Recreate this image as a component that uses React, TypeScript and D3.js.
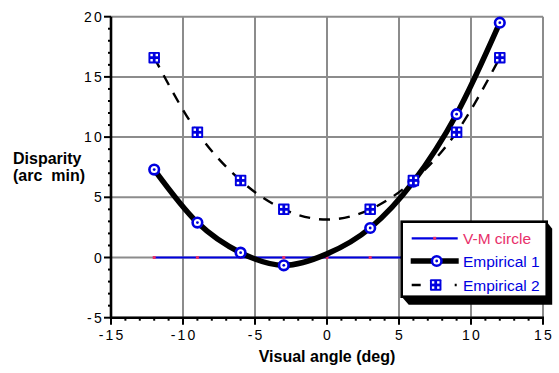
import React from "react";
import * as d3 from "d3";

const xTicks = [-15, -10, -5, 0, 5, 10, 15];
const yTicks = [-5, 0, 5, 10, 15, 20];

const vmX = [-12, -9, -6, -3, 0, 3, 6, 9, 12];
const vmY = [0, 0, 0, 0, 0, 0, 0, 0, 0];

const emp1X = [-12, -9, -6, -3, 3, 6, 9, 12];
const emp1Y = [7.3, 2.9, 0.4, -0.65, 2.45, 6.3, 11.9, 19.5];

const emp1CurveX = [-12, -9, -6, -3, 0, 3, 6, 9, 12];
const emp1CurveY = [7.3, 2.9, 0.4, -0.65, 0.3, 2.45, 6.3, 11.9, 19.5];

const emp2X = [-12, -9, -6, -3, 3, 6, 9, 12];
const emp2Y = [16.6, 10.4, 6.4, 4.0, 4.0, 6.4, 10.4, 16.6];

const emp2CurveX = [-12, -9, -6, -3, 0, 3, 6, 9, 12];
const emp2CurveY = [16.6, 10.4, 6.4, 4.0, 3.15, 4.0, 6.4, 10.4, 16.6];

const legendLabels = ["V-M circle", "Empirical 1", "Empirical 2"];

const W = 559;
const H = 373;
const FONT = "'Liberation Sans', Arial, Helvetica, sans-serif";
const BLUE = "#0000e0";
const RED = "#e8306a";
const GRID = "#8c8c8c";

const x = d3.scaleLinear().domain([-15, 15]).range([111, 543]);
const y = d3.scaleLinear().domain([-5, 20]).range([317.7, 16.7]);

function CircleMarker({ cx, cy }: { cx: number; cy: number }) {
  return (
    <g>
      <circle cx={cx} cy={cy} r={4.8} fill="#fff" stroke={BLUE} strokeWidth={2.6} />
      <circle cx={cx} cy={cy} r={1.4} fill={BLUE} />
    </g>
  );
}

function SquareMarker({ cx, cy }: { cx: number; cy: number }) {
  const s = 11.5;
  const q = 2.4;
  const off = 2.6;
  return (
    <g>
      <rect x={cx - s / 2} y={cy - s / 2} width={s} height={s} rx={1} fill={BLUE} />
      {[-1, 1].map((i) =>
        [-1, 1].map((j) => (
          <rect
            key={`${i}${j}`}
            x={cx + i * off - q / 2}
            y={cy + j * off - q / 2}
            width={q}
            height={q}
            fill="#fff"
          />
        ))
      )}
    </g>
  );
}

export default function App() {
  const line1 = d3
    .line<number>()
    .x((_, i) => x(emp1CurveX[i]))
    .y((d) => y(d))
    .curve(d3.curveMonotoneX)(emp1CurveY) as string;
  const line2 = d3
    .line<number>()
    .x((_, i) => x(emp2CurveX[i]))
    .y((d) => y(d))
    .curve(d3.curveMonotoneX)(emp2CurveY) as string;
  const lineVM = d3
    .line<number>()
    .x((_, i) => x(vmX[i]))
    .y((d) => y(d))(vmY) as string;

  const xMinor = d3.range(-15, 15.01, 1).filter((v) => v % 5 !== 0);
  const yMinor = d3.range(-5, 20.01, 1).filter((v) => v % 5 !== 0);

  const [x0, x1] = x.range();
  const [yb, yt] = y.range();

  // legend geometry
  const L = 401.7, T = 221.7, R = 546.7, B = 296.7;
  const rowsY = [238.3, 261, 285];
  const sx0 = 411.7, sx1 = 457.7, sxc = 434.7;
  const tx = 463;

  const LS = 2.2;

  return (
    <div style={{ position: "absolute", left: 0, top: 0 }}>
      <svg width={W} height={H} style={{ display: "block", background: "#fff" }}>
        {/* grid */}
        {xTicks.map((t) => (
          <line key={"gx" + t} x1={x(t)} x2={x(t)} y1={yb} y2={yt} stroke={GRID} strokeWidth={2} />
        ))}
        {yTicks.map((t) => (
          <line key={"gy" + t} x1={x0} x2={x1} y1={y(t)} y2={y(t)} stroke={GRID} strokeWidth={2} />
        ))}

        {/* V-M circle */}
        <path d={lineVM} fill="none" stroke={BLUE} strokeWidth={2.2} />
        {vmX.map((v, i) => (
          <rect key={"vm" + i} x={x(v) - 1.5} y={y(vmY[i]) - 1.5} width={3} height={3} fill={RED} />
        ))}

        {/* Empirical 2 dashed */}
        <path d={line2} fill="none" stroke="#000" strokeWidth={2.4} strokeDasharray="11,9" />

        {/* Empirical 1 thick */}
        <path d={line1} fill="none" stroke="#000" strokeWidth={5.5} strokeLinejoin="round" />

        {emp1X.map((v, i) => (
          <CircleMarker key={"e1" + i} cx={x(v)} cy={y(emp1Y[i])} />
        ))}
        {emp2X.map((v, i) => (
          <SquareMarker key={"e2" + i} cx={x(v)} cy={y(emp2Y[i])} />
        ))}

        {/* axes */}
        <line x1={x0} x2={x0} y1={yb + 1} y2={yt} stroke="#000" strokeWidth={2.6} />
        <line x1={x0 - 1} x2={x1 + 1} y1={yb} y2={yb} stroke="#000" strokeWidth={2.6} />
        {xTicks.map((t) => (
          <line key={"tx" + t} x1={x(t)} x2={x(t)} y1={yb} y2={yb + 7} stroke="#000" strokeWidth={2} />
        ))}
        {xMinor.map((t) => (
          <line key={"mx" + t} x1={x(t)} x2={x(t)} y1={yb} y2={yb + 3} stroke="#000" strokeWidth={2} />
        ))}
        {yTicks.map((t) => (
          <line key={"ty" + t} x1={x0 - 7} x2={x0} y1={y(t)} y2={y(t)} stroke="#000" strokeWidth={2} />
        ))}
        {yMinor.map((t) => (
          <line key={"my" + t} x1={x0 - 3} x2={x0} y1={y(t)} y2={y(t)} stroke="#000" strokeWidth={2} />
        ))}

        {/* tick labels */}
        {xTicks.map((t) => (
          <text
            key={"lx" + t}
            x={x(t) + LS / 2}
            y={340}
            textAnchor="middle"
            fontFamily={FONT}
            fontSize={14}
            letterSpacing={LS}
            fill="#000"
          >
            {String(t)}
          </text>
        ))}
        {yTicks.map((t) => (
          <text
            key={"ly" + t}
            x={101.7 + LS}
            y={y(t) + 5}
            textAnchor="end"
            fontFamily={FONT}
            fontSize={14}
            letterSpacing={LS}
            fill="#000"
          >
            {String(t)}
          </text>
        ))}

        {/* axis titles */}
        <text x={x(0)} y={362} textAnchor="middle" fontFamily={FONT} fontSize={16} fontWeight="bold">
          Visual angle (deg)
        </text>
        <text x={13} y={164} fontFamily={FONT} fontSize={16} fontWeight="bold">
          Disparity
        </text>
        <text x={13} y={181} fontFamily={FONT} fontSize={16} fontWeight="bold" style={{ whiteSpace: "pre" }}>
          (arc  min)
        </text>

        {/* legend */}
        <polygon
          points={`${R},${T} ${R + 5.5},${T + 7} ${R + 5.5},${B + 8} ${L + 7},${B + 8} ${L},${B}`}
          fill="#000"
        />
        <rect x={L} y={T} width={R - L} height={B - T} fill="#fff" stroke="#000" strokeWidth={2.6} />

        <line x1={sx0} x2={sx1} y1={rowsY[0]} y2={rowsY[0]} stroke={BLUE} strokeWidth={2.2} />
        <rect x={sxc - 1.5} y={rowsY[0] - 1.5} width={3} height={3} fill={RED} />

        <line x1={sx0 - 1} x2={sx1 + 1} y1={rowsY[1]} y2={rowsY[1]} stroke="#000" strokeWidth={5.5} />
        <CircleMarker cx={sxc + 2} cy={rowsY[1]} />

        <line
          x1={sx0}
          x2={sx1}
          y1={rowsY[2]}
          y2={rowsY[2]}
          stroke="#000"
          strokeWidth={2.4}
          strokeDasharray="9,34,2,10"
        />
        <SquareMarker cx={sxc + 1} cy={rowsY[2]} />

        {legendLabels.map((lab, i) => (
          <text
            key={lab}
            x={tx}
            y={rowsY[i] + 5.5}
            fontFamily={FONT}
            fontSize={15.5}
            fill={i === 0 ? RED : BLUE}
          >
            {lab}
          </text>
        ))}
      </svg>
    </div>
  );
}
